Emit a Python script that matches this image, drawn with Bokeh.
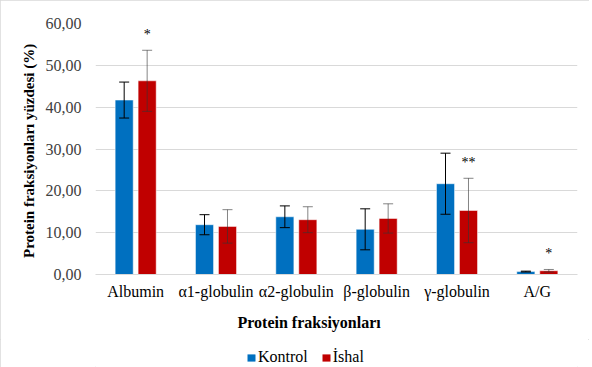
from bokeh.plotting import figure
from bokeh.layouts import column
from bokeh.models import (ColumnDataSource, FactorRange, Range1d, FixedTicker, Whisker,
                          TeeHead, Legend, LegendItem, Title)
from bokeh.transform import dodge
from bokeh.core.properties import value
from bokeh.embed import file_html
from bokeh.resources import INLINE

categories = ["Albumin", "α1-globulin", "α2-globulin", "β-globulin", "γ-globulin", "A/G"]
kontrol_mean = [41.7, 11.9, 13.8, 10.8, 21.7, 0.7]
kontrol_sd = [4.3, 2.4, 2.6, 4.9, 7.3, 0.1]
ishal_mean = [46.3, 11.5, 13.1, 13.4, 15.3, 0.9]
ishal_sd = [7.3, 4.0, 3.1, 3.5, 7.7, 0.3]
ishal_sig = ["*", "", "", "", "**", "*"]
y_ticks = [0, 10, 20, 30, 40, 50, 60]
series_names = ["Kontrol", "İshal"]

FONT = "Liberation Serif"
BLUE = "#0070C0"
RED = "#C00000"
GRID = "#d9d9d9"

src_k = ColumnDataSource(dict(cat=categories, mean=kontrol_mean,
                              upper=[m + s for m, s in zip(kontrol_mean, kontrol_sd)],
                              lower=[m - s for m, s in zip(kontrol_mean, kontrol_sd)]))
src_i = ColumnDataSource(dict(cat=categories, mean=ishal_mean, sig=ishal_sig,
                              upper=[m + s for m, s in zip(ishal_mean, ishal_sd)],
                              lower=[m - s for m, s in zip(ishal_mean, ishal_sd)]))

p = figure(x_range=FactorRange(*categories), y_range=Range1d(0, 60),
           frame_width=482, frame_height=251, output_backend="svg", toolbar_location=None,
           min_border_left=95, min_border_right=12, min_border_top=23, min_border_bottom=64)
p.outline_line_color = None

off = 0.143
w = 0.225
rk = p.vbar(x=dodge("cat", -off, range=p.x_range), top="mean", width=w, source=src_k,
            fill_color=BLUE, line_color="white", line_alpha=0.5)
ri = p.vbar(x=dodge("cat", off, range=p.x_range), top="mean", width=w, source=src_i,
            fill_color=RED, line_color="white", line_alpha=0.5)

wk = Whisker(base=dodge("cat", -off, range=p.x_range), upper="upper", lower="lower", source=src_k,
             line_color="black", line_width=1, level="annotation",
             upper_head=TeeHead(size=10, line_color="black", line_width=1),
             lower_head=TeeHead(size=10, line_color="black", line_width=1))
wi = Whisker(base=dodge("cat", off, range=p.x_range), upper="upper", lower="lower", source=src_i,
             line_color="#333333", line_alpha=0.6, line_width=1, level="annotation",
             upper_head=TeeHead(size=10, line_color="#333333", line_alpha=0.6, line_width=1),
             lower_head=TeeHead(size=10, line_color="#333333", line_alpha=0.6, line_width=1))
p.add_layout(wk)
p.add_layout(wi)

p.text(x=dodge("cat", off, range=p.x_range), y="upper", text="sig", source=src_i,
       y_offset=-16, text_align="center", text_baseline="alphabetic",
       text_font=value(FONT), text_font_size="14px", text_color="black")

# axes
p.yaxis.ticker = FixedTicker(ticks=y_ticks)
p.yaxis.major_label_overrides = {t: f"{t:.2f}".replace(".", ",") for t in y_ticks}
p.yaxis.axis_line_color = None
p.yaxis.major_tick_line_color = None
p.yaxis.minor_tick_line_color = None
p.yaxis.major_tick_out = 0
p.yaxis.major_label_standoff = 14
p.yaxis.major_label_text_font = FONT
p.yaxis.major_label_text_font_size = "16px"
p.yaxis.major_label_text_color = "#404040"
p.yaxis.axis_label = "Protein fraksiyonları  yüzdesi (%)"
p.yaxis.axis_label_text_font = FONT
p.yaxis.axis_label_text_font_size = "15px"
p.yaxis.axis_label_text_font_style = "bold"
p.yaxis.axis_label_text_color = "black"
p.yaxis.axis_label_standoff = 6

p.xaxis.axis_line_color = GRID
p.xaxis.major_tick_line_color = None
p.xaxis.minor_tick_line_color = None
p.xaxis.major_tick_out = 0
p.xaxis.major_label_standoff = 8
p.xaxis.major_label_text_font = FONT
p.xaxis.major_label_text_font_size = "16px"
p.xaxis.major_label_text_color = "black"

p.xgrid.grid_line_color = None
p.ygrid.grid_line_color = GRID
p.ygrid.grid_line_width = 1

p.add_layout(Title(text="Protein fraksiyonları", align="left", offset=142,
                   text_font=FONT, text_font_size="16px", text_font_style="bold",
                   text_color="black", standoff=18), "below")

# legend strip below the chart (zero-height proxy bars only feed the legend swatches)
p2 = figure(width=589, height=28, output_backend="svg", toolbar_location=None,
            min_border=0, x_range=Range1d(0, 1), y_range=Range1d(0, 1))
p2.axis.visible = False
p2.grid.visible = False
p2.outline_line_color = None
proxy = ColumnDataSource(dict(x=[0.5], top=[0.0]))
lk = p2.vbar(x="x", top="top", width=0, source=proxy, fill_color=BLUE, line_color=None)
li = p2.vbar(x="x", top="top", width=0, source=proxy, fill_color=RED, line_color=None)
legend = Legend(items=[LegendItem(label=series_names[0], renderers=[lk]),
                       LegendItem(label=series_names[1], renderers=[li])],
                orientation="horizontal", location=(151, 1),
                border_line_color=None, background_fill_alpha=0,
                glyph_width=10, glyph_height=9, label_standoff=2, spacing=13,
                padding=1, margin=0,
                label_text_font=FONT, label_text_font_size="16px", label_text_color="black")
p2.add_layout(legend, "center")

layout = column(p, p2, spacing=0)
layout.styles = {"outline": "1px solid #d9d9d9", "outline-offset": "-1px"}
open("out.html", "w").write(file_html(layout, INLINE))
